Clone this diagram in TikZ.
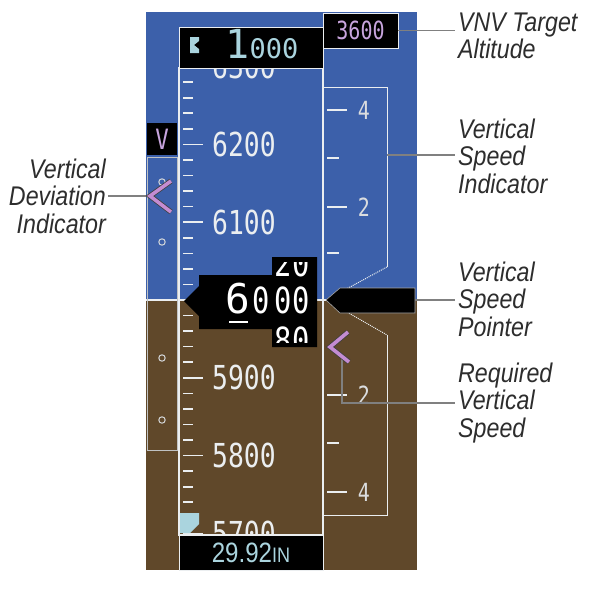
\documentclass[tikz,border=0pt]{standalone}
\usepackage{fontspec}
\setmainfont{Liberation Sans}
\newfontfamily\calloutfont[FakeStretch=0.86]{Liberation Sans}
\newfontfamily\dispfont{DejaVu Sans Mono}
\newfontfamily\dispnarrow[FakeStretch=0.8]{DejaVu Sans Mono}

\definecolor{sky}{RGB}{60,96,170}
\definecolor{ground}{RGB}{96,72,42}
\definecolor{bugcyan}{RGB}{170,212,222}
\definecolor{vnvpink}{RGB}{200,165,222}
\definecolor{chevpink}{RGB}{196,140,210}
\definecolor{tapewhite}{RGB}{235,238,240}
\definecolor{leadgray}{RGB}{128,128,128}
\definecolor{calltext}{RGB}{45,45,45}

\begin{document}
\begin{tikzpicture}[
    x=1pt, y=-1pt,
    callout/.style={inner sep=0pt, text=calltext, font=\calloutfont\itshape\fontsize{27}{27.5}\selectfont},
    leader/.style={draw=leadgray, line width=1.8pt},
    blackbox/.style={fill=black, draw=tapewhite, line width=0.8pt, inner sep=0pt},
    tapetick/.style={draw=tapewhite, line width=1.6pt},
    tapenum/.style={text=tapewhite, inner sep=0pt, anchor=west, font=\dispnarrow\fontsize{33}{33}\selectfont},
    vsinum/.style={text=tapewhite!85!gray, inner sep=0pt, font=\dispnarrow\fontsize{25}{25}\selectfont},
    drumnum/.style={text=white, inner sep=0pt, anchor=base, font=\dispnarrow\fontsize{36}{36}\selectfont},
    chevron/.style={draw=black!75, double=chevpink, double distance=3.6pt, line width=0.8pt, line join=miter}
  ]
  \useasboundingbox (0,0) rectangle (600,600);

  % --- sky and ground ---
  \fill[sky] (146,12) rectangle (417,300);
  \fill[ground] (146,300) rectangle (417,570);
  \draw[tapewhite, line width=1.2pt] (146,300) -- (417,300);

  % --- vertical deviation scale ---
  \node[fill=black, minimum width=30, minimum height=32, inner sep=0pt, text=vnvpink,
        font=\dispnarrow\fontsize{28}{28}\selectfont] (vbox) at (162,139) {V};
  \draw[tapewhite!60!gray, line width=0.8pt] (147,157) rectangle (177,450);
  \foreach \yy in {182,242,358,420}
    \draw[tapewhite!80!gray, line width=1pt] (162,\yy) circle (3.2);

  % --- vertical speed scale ---
  \draw[tapewhite, line width=1pt] (323,87) -- (387,87) -- (387,267);
  \draw[tapewhite, line width=1pt, densely dotted] (387,267) -- (326,300) -- (387,335);
  \draw[tapewhite, line width=1pt] (387,335) -- (387,515) -- (323,515);
  \foreach \yy in {158,253,443}
    \draw[tapetick] (327,\yy) -- (339,\yy);
  \foreach \lbl/\yy in {4/110, 2/207, 2/395, 4/492} {
    \draw[tapetick] (327,\yy) -- (347,\yy);
    \node[vsinum] (vs\yy) at (364,\yy) {\lbl};
  }

  % --- altitude tape ---
  \begin{scope}
    \clip (180,69) rectangle (322,534);
    \foreach \k in {-15,...,15}
      \draw[tapetick] (183,{300+15.56*\k}) -- (193,{300+15.56*\k});
    \foreach \k in {-3,...,3}
      \draw[tapetick] (183,{300+77.8*\k}) -- (203,{300+77.8*\k});
    \foreach \alt/\k in {6300/-3, 6200/-2, 6100/-1, 5900/1, 5800/2, 5700/3}
      \node[tapenum] (alt\alt) at (212,{300+77.8*\k}) {\alt};
  \end{scope}
  \draw[tapewhite, line width=1.2pt] (179,68) rectangle (323,535);
  \fill[bugcyan] (180,513) -- (199,513) -- (199,524) -- (190,533) -- (180,533) -- cycle;

  % --- selected altitude and VNV target ---
  \node[blackbox, minimum width=144, minimum height=41] (selalt) at (251,47.5) {};
  \fill[bugcyan] (190,37) -- (199,37) -- (199,41) -- (194,45) -- (199,49) -- (199,53) -- (190,53) -- cycle;
  \node[text=bugcyan, inner sep=0pt, anchor=base] (selnum) at (262,58)
    {{\dispfont\fontsize{40}{40}\selectfont 1}{\dispfont\fontsize{27}{27}\selectfont 000}};
  \node[blackbox, minimum width=75, minimum height=35, text=vnvpink,
        font=\dispnarrow\fontsize{25}{25}\selectfont] (vnv) at (360.5,30.5) {3600};

  % --- barometric setting ---
  \node[blackbox, minimum width=144, minimum height=35, text=bugcyan] (baro) at (251,552.5)
    {{\calloutfont\fontsize{28}{28}\selectfont 29.92}{\calloutfont\fontsize{21}{21}\selectfont IN}};

  % --- altitude readout ---
  \fill[black] (184,301) -- (199,286) -- (199,275) -- (272,275) -- (272,257) -- (317,257)
    -- (317,347) -- (272,347) -- (272,329) -- (199,329) -- (199,316) -- cycle;
  \node[drumnum, font=\dispfont\fontsize{41}{41}\selectfont] (alt6) at (237.5,313) {6};
  \draw[white, line width=2pt] (229,322) -- (248,322);
  \node[drumnum] (alt0) at (261.5,313) {0};
  \begin{scope}
    \clip (272,262) rectangle (317,342);
    \node[drumnum] (drum20) at (292,276) {20};
    \node[drumnum] (drum00) at (292,313) {00};
    \node[drumnum] (drum80) at (292,353) {80};
  \end{scope}

  % --- vertical speed pointer ---
  \filldraw[fill=black, draw=gray!70, line width=0.6pt]
    (326,300) -- (340,288) -- (415,288) -- (415,313) -- (340,313) -- cycle;
  \coordinate (vsptr) at (415,300);
  \coordinate (vsiedge) at (387,155);

  % --- callouts ---
  \node[callout, align=left, anchor=west] (vnvlbl) at (458,36) {VNV Target\\Altitude};
  \node[callout, align=left, anchor=west] (vsilbl) at (458,156) {Vertical\\Speed\\Indicator};
  \node[callout, align=left, anchor=west] (ptrlbl) at (458,299) {Vertical\\Speed\\Pointer};
  \node[callout, align=left, anchor=west] (rvslbl) at (458,403) {Required\\Vertical\\Speed};
  \node[callout, align=right, anchor=east] (vdilbl) at (106,196) {Vertical\\Deviation\\Indicator};

  \coordinate (vdi) at (150,196);
  \coordinate (rvs) at (342,357);
  \draw[leader] (vnv.east) -- ([xshift=-3pt]vnv.east -| vnvlbl.west);
  \draw[leader] (vsiedge) -- ([xshift=-3pt]vsiedge -| vsilbl.west);
  \draw[leader] (vsptr) -- ([xshift=-3pt]vsptr -| ptrlbl.west);
  \draw[leader] (rvs) |- ([xshift=-3pt]rvslbl.west);
  \draw[leader] ([xshift=2pt]vdilbl.east) -- (vdi);

  % --- chevrons ---
  \draw[chevron] (171,181) -- (150,196) -- (171,212);
  \draw[chevron] (348,332) -- (330,347) -- (349,362);
\end{tikzpicture}
\end{document}
